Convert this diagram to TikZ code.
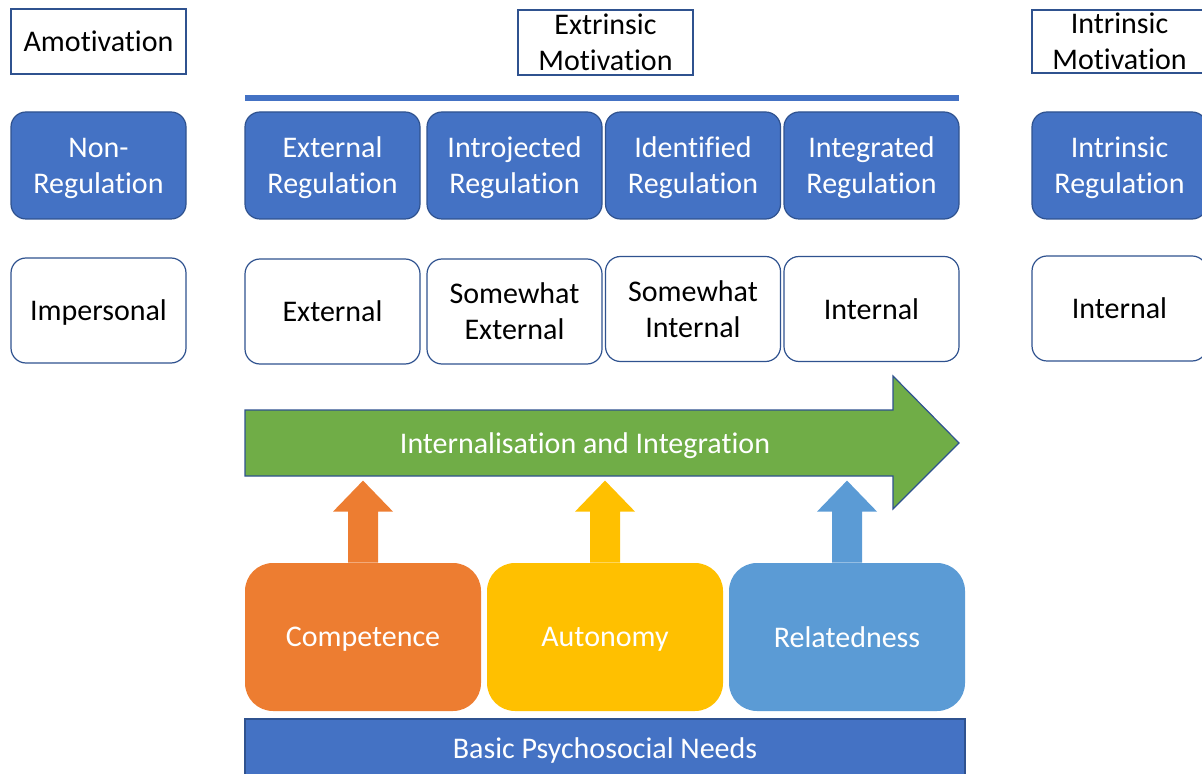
\documentclass[tikz,border=0pt]{standalone}
\usepackage{fontspec}
\setmainfont{Carlito}[Ligatures=NoCommon]
\definecolor{regblue}{HTML}{4472C4}
\definecolor{edgeblue}{HTML}{2F528F}
\definecolor{intgreen}{HTML}{70AD47}
\definecolor{comporange}{HTML}{ED7D31}
\definecolor{autoyellow}{HTML}{FFC000}
\definecolor{relblue}{HTML}{5B9BD5}
\tikzset{
    every node/.style={font=\fontsize{15}{18}\selectfont, align=center, inner sep=0pt, text depth=0pt},
    titlebox/.style={draw=edgeblue, line width=0.6pt, fill=white, minimum width=87.5pt, minimum height=32.5pt},
    regbox/.style={draw=edgeblue, line width=0.6pt, fill=regblue, text=white, rounded corners=7.5pt, minimum width=87.5pt, minimum height=53.5pt},
    locusbox/.style={draw=edgeblue, line width=0.6pt, fill=white, rounded corners=7.5pt, minimum width=87.5pt, minimum height=52.5pt},
    needbox/.style={text=white, rounded corners=14pt, minimum width=118pt, minimum height=74pt},
}
\begin{document}
\begin{tikzpicture}[x=0.5pt, y=-0.5pt]
        \useasboundingbox (0, 0) rectangle (1202, 774);

        % headings
        \node [titlebox] at (98.5, 41.5) (amot) {Amotivation};
        \node [titlebox] at (605.5, 42.5) (extr) {Extrinsic\\Motivation};
        \node [titlebox, minimum height=31.5pt] at (1119.5, 41.5) (intr) {Intrinsic\\Motivation};
        \fill [regblue] (245, 95) rectangle (959, 101);

        % regulation styles
        \node [regbox] at (98.5, 165.5) (nonreg) {Non-\\Regulation};
        \node [regbox] at (332.5, 165.5) (extreg) {External\\Regulation};
        \node [regbox] at (514.5, 165.5) (introreg) {Introjected\\Regulation};
        \node [regbox] at (693, 165.5) (identreg) {Identified\\Regulation};
        \node [regbox] at (871.5, 165.5) (integreg) {Integrated\\Regulation};
        \node [regbox] at (1119.5, 165.5) (intrreg) {Intrinsic\\Regulation};

        % locus of causality
        \node [locusbox] at (98.5, 310.5) (imper) {Impersonal};
        \node [locusbox] at (332.5, 311.5) (external) {External};
        \node [locusbox] at (514.5, 311.5) (swext) {Somewhat\\External};
        \node [locusbox] at (693, 309) (swint) {Somewhat\\Internal};
        \node [locusbox] at (871.5, 309) (internal) {Internal};
        \node [locusbox] at (1119.5, 308.5) (intrint) {Internal};

        % internalisation arrow
        \draw [edgeblue, line width=0.6pt, fill=intgreen] (245, 410) -- (893, 410) -- (893, 376) -- (959, 443) -- (893, 509) -- (893, 476) -- (245, 476) -- cycle;
        \node [text=white] at (585, 443) (internalise) {Internalisation and Integration};

        % basic needs
        \node [needbox, fill=comporange] at (363, 637) (comp) {Competence};
        \node [needbox, fill=autoyellow] at (605, 637) (auto) {Autonomy};
        \node [needbox, fill=relblue] at (847, 637) (rel) {Relatedness};
        \node [fill=regblue, draw=edgeblue, line width=0.6pt, text=white, minimum width=360pt, minimum height=29pt] at (605, 748) (needs) {Basic Psychosocial Needs};

        \fill [comporange] ([xshift=-7.5pt]comp.north) -- ++(0, -51) -- ++(-15, 0) -- ++(30, -31) -- ++(30, 31) -- ++(-15, 0) -- ++(0, 51) -- cycle;
        \fill [autoyellow] ([xshift=-7.5pt]auto.north) -- ++(0, -51) -- ++(-15, 0) -- ++(30, -31) -- ++(30, 31) -- ++(-15, 0) -- ++(0, 51) -- cycle;
        \fill [relblue] ([xshift=-7.5pt]rel.north) -- ++(0, -51) -- ++(-15, 0) -- ++(30, -31) -- ++(30, 31) -- ++(-15, 0) -- ++(0, 51) -- cycle;
        \end{tikzpicture}
\end{document}
